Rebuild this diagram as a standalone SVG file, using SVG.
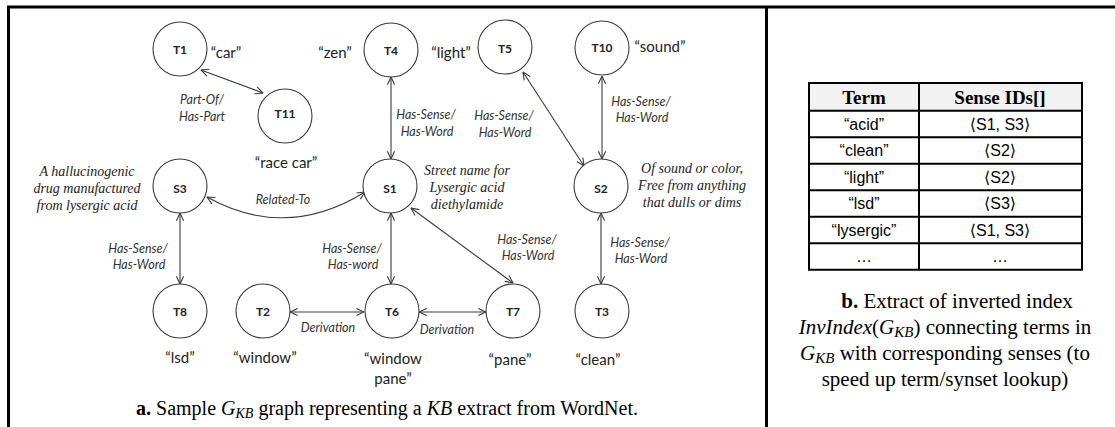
<svg xmlns="http://www.w3.org/2000/svg" width="1115" height="427" viewBox="0 0 1115 427">
  <style>
    .node circle { fill: #fff; stroke: #3a3a3a; stroke-width: 1.1; }
    .nid { font-family: Lato, "Liberation Sans", sans-serif; font-weight: bold; font-size: 12px; fill: #222; text-anchor: middle; }
    .word { font-family: Lato, "Liberation Sans", sans-serif; font-size: 15px; fill: #222; text-anchor: middle; }
    .gloss { font-family: "Liberation Serif", serif; font-style: italic; font-size: 14px; fill: #222; text-anchor: middle; }
    .elab { font-family: Lato, "Liberation Sans", sans-serif; font-style: italic; font-size: 12.5px; fill: #333; text-anchor: middle; }
    .edge { fill: none; stroke: #3a3a3a; stroke-width: 1.1; marker-start: url(#arr); marker-end: url(#arr); }
    .frame { stroke: #000; stroke-width: 3; fill: none; }
    .grid { stroke: #000; stroke-width: 2; fill: none; }
    .th { font-family: "Liberation Serif", serif; font-weight: bold; font-size: 19px; fill: #000; text-anchor: middle; }
    .td { font-family: "Liberation Sans", "DejaVu Sans", sans-serif; font-size: 16px; fill: #000; text-anchor: middle; }
    .cap { font-family: "Liberation Serif", serif; font-size: 20px; fill: #000; text-anchor: middle; }
    .capb { font-family: "Liberation Serif", serif; font-size: 21px; fill: #000; text-anchor: middle; }
  </style>
  <defs>
    <marker id="arr" viewBox="0 0 10 10" refX="9.5" refY="5" markerWidth="9" markerHeight="9" orient="auto-start-reverse" markerUnits="userSpaceOnUse">
      <path d="M1,1 L9.5,5 L1,9" fill="none" stroke="#3a3a3a" stroke-width="1.2"/>
    </marker>
  </defs>

  <rect width="1115" height="427" fill="#fff"/>

  <!-- panel frame -->
  <g id="frame">
    <line class="frame" x1="7" y1="7" x2="1115" y2="7"/>
    <line class="frame" x1="8.5" y1="6" x2="8.5" y2="427"/>
    <line class="frame" x1="766.5" y1="6" x2="766.5" y2="427"/>
  </g>

  <!-- connectors -->
  <g id="edges">
    <line class="edge" x1="201" y1="70" x2="263" y2="93"/>
    <line class="edge" x1="391" y1="77" x2="391" y2="159"/>
    <line class="edge" x1="523" y1="72" x2="584" y2="166"/>
    <line class="edge" x1="602" y1="76" x2="602" y2="159"/>
    <path class="edge" d="M207,197 Q286,241 365,192"/>
    <line class="edge" x1="180" y1="213" x2="180" y2="284"/>
    <line class="edge" x1="391" y1="213" x2="391" y2="284"/>
    <line class="edge" x1="411" y1="208" x2="513" y2="283"/>
    <line class="edge" x1="601" y1="213" x2="601" y2="284"/>
    <line class="edge" x1="290" y1="312" x2="364" y2="312"/>
    <line class="edge" x1="419" y1="312" x2="486" y2="312"/>
  </g>

  <!-- connector labels -->
  <g id="edge-labels">
    <text class="elab" x="202" y="104">Part-Of/</text>
    <text class="elab" x="202" y="121">Has-Part</text>
    <text class="elab" x="426" y="119">Has-Sense/</text>
    <text class="elab" x="427" y="136">Has-Word</text>
    <text class="elab" x="504" y="120">Has-Sense/</text>
    <text class="elab" x="505" y="137">Has-Word</text>
    <text class="elab" x="641" y="106">Has-Sense/</text>
    <text class="elab" x="642" y="122">Has-Word</text>
    <text class="elab" x="283" y="204">Related-To</text>
    <text class="elab" x="138" y="253">Has-Sense/</text>
    <text class="elab" x="139" y="269">Has-Word</text>
    <text class="elab" x="352" y="253">Has-Sense/</text>
    <text class="elab" x="353" y="269">Has-word</text>
    <text class="elab" x="527" y="244">Has-Sense/</text>
    <text class="elab" x="528" y="260">Has-Word</text>
    <text class="elab" x="640" y="247">Has-Sense/</text>
    <text class="elab" x="641" y="263">Has-Word</text>
    <text class="elab" x="328" y="332">Derivation</text>
    <text class="elab" x="447" y="334">Derivation</text>
  </g>

  <!-- term and sense nodes -->
  <g id="T1" class="node"><circle cx="180" cy="49" r="27"/><text class="nid" x="180" y="54">T1</text><text class="word" x="226" y="58">“car”</text></g>
  <g id="T11" class="node"><circle cx="285" cy="116" r="27"/><text class="nid" x="285" y="118">T11</text><text class="word" x="286" y="168">“race car”</text></g>
  <g id="T4" class="node"><circle cx="391" cy="50" r="27"/><text class="nid" x="391" y="55">T4</text><text class="word" x="335" y="58">“zen”</text><text class="word" x="451" y="58">“light”</text></g>
  <g id="T5" class="node"><circle cx="505" cy="47" r="27"/><text class="nid" x="505" y="53">T5</text></g>
  <g id="T10" class="node"><circle cx="602" cy="48" r="27"/><text class="nid" x="602" y="52">T10</text><text class="word" x="660" y="52">“sound”</text></g>

  <g id="S3" class="node"><circle cx="180" cy="186" r="27"/><text class="nid" x="180" y="193">S3</text>
    <text class="gloss" x="87" y="176">A hallucinogenic</text>
    <text class="gloss" x="87" y="193">drug manufactured</text>
    <text class="gloss" x="87" y="210">from lysergic acid</text>
  </g>
  <g id="S1" class="node"><circle cx="390" cy="186" r="27"/><text class="nid" x="390" y="193">S1</text>
    <text class="gloss" x="467" y="175">Street name for</text>
    <text class="gloss" x="467" y="192">Lysergic acid</text>
    <text class="gloss" x="467" y="209">diethylamide</text>
  </g>
  <g id="S2" class="node"><circle cx="601" cy="186" r="27"/><text class="nid" x="601" y="193">S2</text>
    <text class="gloss" x="692" y="173">Of sound or color,</text>
    <text class="gloss" x="692" y="190">Free from anything</text>
    <text class="gloss" x="692" y="207">that dulls or dims</text>
  </g>

  <g id="T8" class="node"><circle cx="180" cy="311" r="27"/><text class="nid" x="180" y="316">T8</text><text class="word" x="180" y="363">“lsd”</text></g>
  <g id="T2" class="node"><circle cx="263" cy="311" r="27"/><text class="nid" x="263" y="316">T2</text><text class="word" x="265" y="363">“window”</text></g>
  <g id="T6" class="node"><circle cx="392" cy="311" r="27"/><text class="nid" x="392" y="316">T6</text><text class="word" x="393" y="364">“window</text><text class="word" x="393" y="384">pane”</text></g>
  <g id="T7" class="node"><circle cx="513" cy="311" r="27"/><text class="nid" x="513" y="316">T7</text><text class="word" x="510" y="365">“pane”</text></g>
  <g id="T3" class="node"><circle cx="602" cy="311" r="27"/><text class="nid" x="602" y="316">T3</text><text class="word" x="598" y="365">“clean”</text></g>

  <!-- caption a -->
  <text class="cap" x="387" y="415"><tspan font-weight="bold">a.</tspan> Sample <tspan font-style="italic">G<tspan font-size="14" dy="3">KB</tspan></tspan><tspan dy="-3"> graph representing a </tspan><tspan font-style="italic">KB</tspan> extract from WordNet.</text>

  <!-- inverted index table -->
  <g id="index-table">
    <rect x="809" y="83" width="273" height="27.75" fill="#f2f2f2"/>
    <rect class="grid" x="809" y="83" width="273" height="186.75"/>
    <line class="grid" x1="919" y1="83" x2="919" y2="269.75"/>
    <line class="grid" x1="809" y1="110.75" x2="1082" y2="110.75"/>
    <line class="grid" x1="809" y1="137.25" x2="1082" y2="137.25"/>
    <line class="grid" x1="809" y1="163.75" x2="1082" y2="163.75"/>
    <line class="grid" x1="809" y1="190.25" x2="1082" y2="190.25"/>
    <line class="grid" x1="809" y1="216.75" x2="1082" y2="216.75"/>
    <line class="grid" x1="809" y1="243.25" x2="1082" y2="243.25"/>
    <text class="th" x="864" y="104">Term</text>
    <text class="th" x="1000" y="104">Sense IDs[]</text>
    <text class="td" x="864" y="130">“acid”</text><text class="td" x="1000" y="130">⟨S1, S3⟩</text>
    <text class="td" x="864" y="156">“clean”</text><text class="td" x="1000" y="156">⟨S2⟩</text>
    <text class="td" x="864" y="183">“light”</text><text class="td" x="1000" y="183">⟨S2⟩</text>
    <text class="td" x="864" y="209">“lsd”</text><text class="td" x="1000" y="209">⟨S3⟩</text>
    <text class="td" x="864" y="236">“lysergic”</text><text class="td" x="1000" y="236">⟨S1, S3⟩</text>
    <text class="td" x="864" y="262">…</text><text class="td" x="1000" y="262">…</text>
  </g>

  <!-- caption b -->
  <g id="caption-b">
    <text class="capb" x="957" y="308"><tspan font-weight="bold">b.</tspan> Extract of inverted index</text>
    <text class="capb" x="945" y="334"><tspan font-style="italic">InvIndex</tspan>(<tspan font-style="italic">G<tspan font-size="15" dy="3">KB</tspan></tspan><tspan dy="-3">) connecting terms in</tspan></text>
    <text class="capb" x="945" y="360"><tspan font-style="italic">G<tspan font-size="15" dy="3">KB</tspan></tspan><tspan dy="-3"> with corresponding senses (to</tspan></text>
    <text class="capb" x="945" y="386">speed up term/synset lookup)</text>
  </g>
</svg>
